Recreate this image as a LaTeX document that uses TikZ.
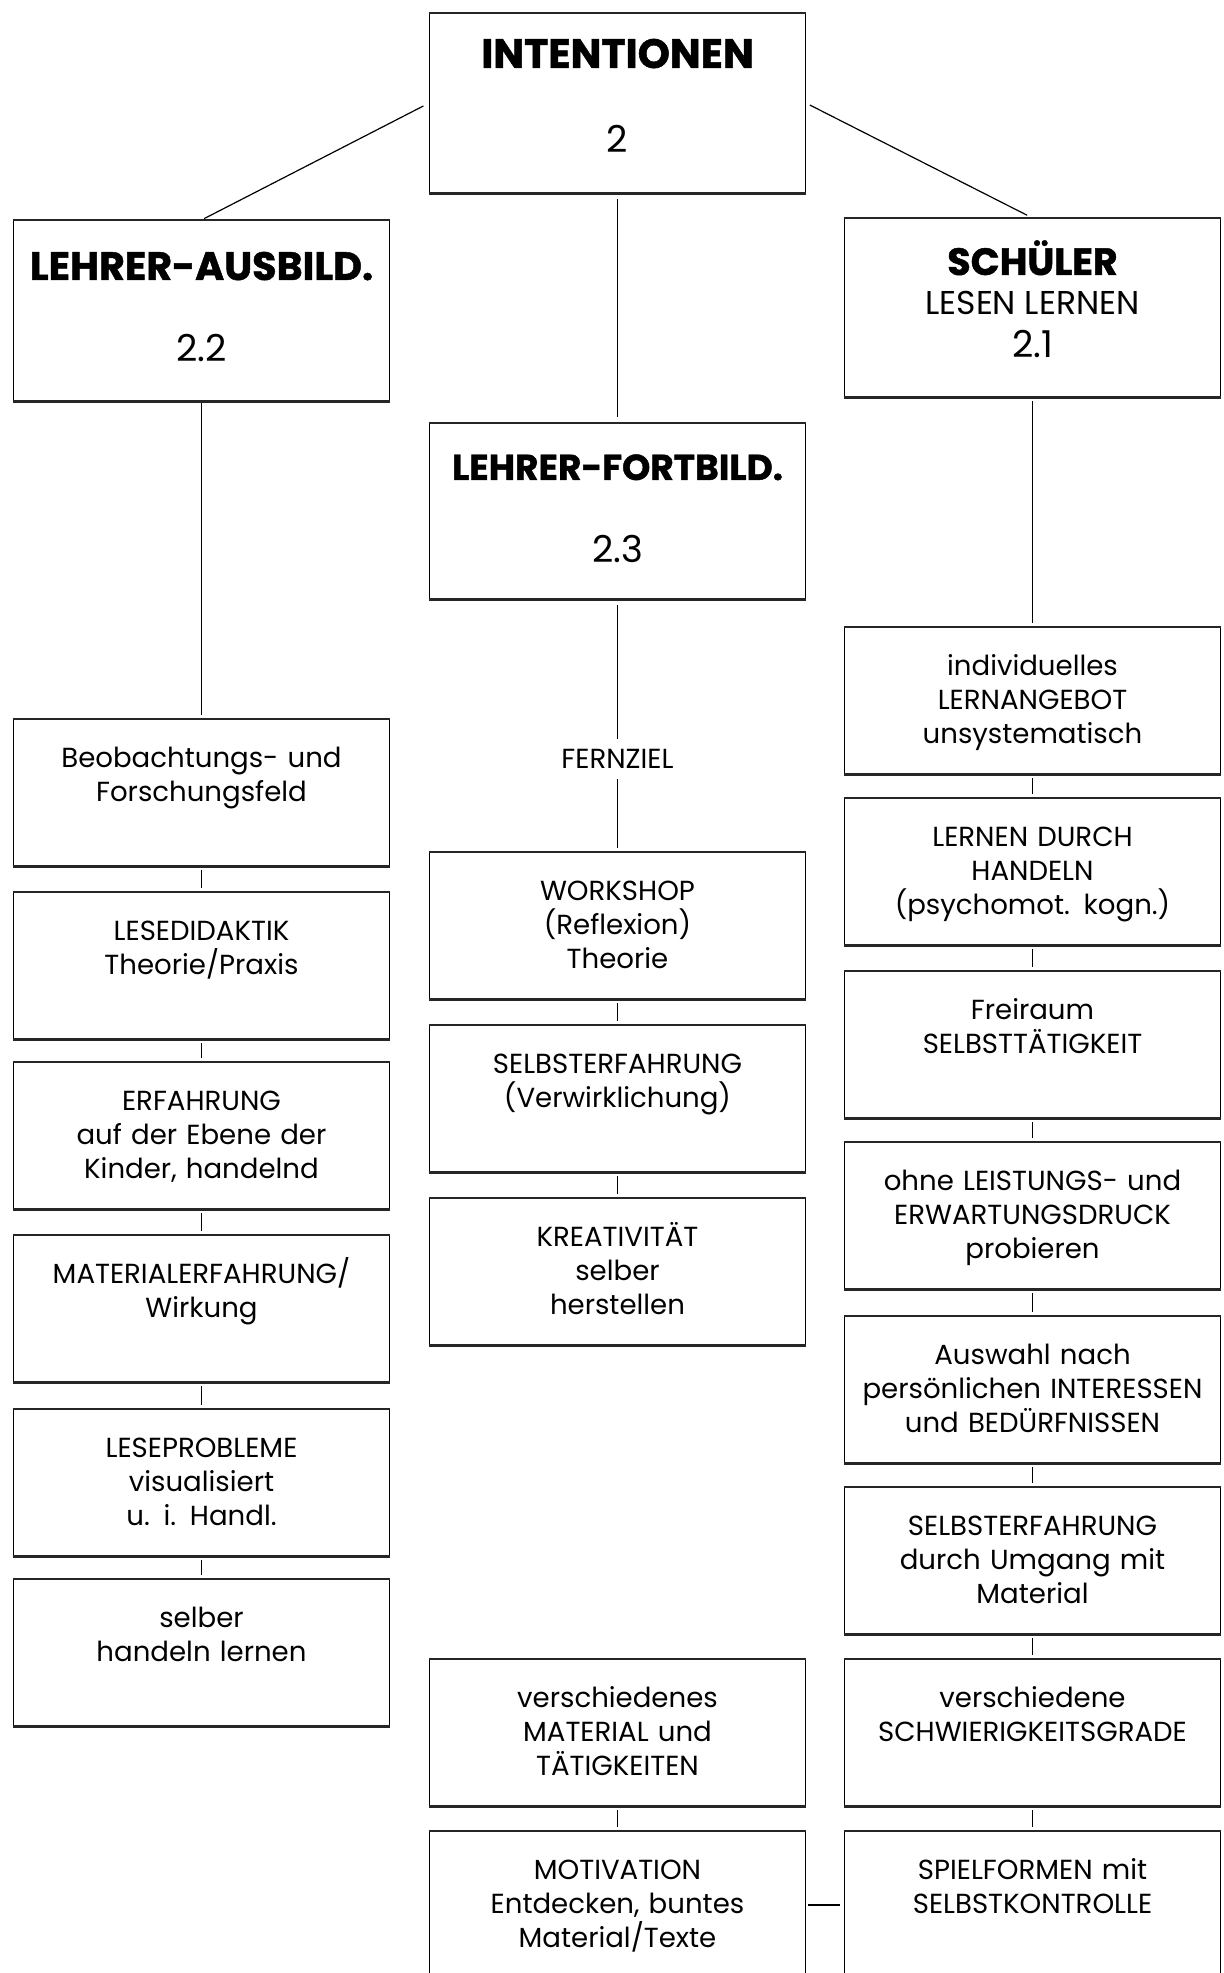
\documentclass[tikz,border=0pt]{standalone}
\usepackage{fontspec}
\setmainfont{Poppins}[BoldFeatures={FakeBold=1.2}]
\newfontfamily\bodyfont{Poppins}
\begin{document}
\begin{tikzpicture}[x=0.5pt,y=-0.5pt,
  frame/.style={draw=black, line width=0.7pt,
    append after command={(\tikzlastnode.north west) edge[line width=1.3pt, draw=black!85] (\tikzlastnode.north east)
                          (\tikzlastnode.south west) edge[line width=1.3pt, draw=black!85] (\tikzlastnode.south east)}},
  box/.style={frame, anchor=north, inner sep=0pt, text width=188pt, align=center,
    text height=24pt, text depth=49pt, font=\bodyfont\fontsize{13.8}{17}\selectfont},
  hbox/.style={frame, anchor=north, inner sep=0pt, minimum width=188pt},
  title/.style={anchor=base, inner sep=0pt, font=\fontsize{#1}{22}\selectfont\bfseries},
  num/.style={anchor=base, inner sep=0pt, font=\fontsize{18.5}{20}\selectfont},
  sub/.style={anchor=base, inner sep=0pt, font=\fontsize{16.5}{20}\selectfont},
  plain/.style={inner sep=0pt, font=\bodyfont\fontsize{13.8}{17}\selectfont},
  link/.style={draw=black, line width=0.6pt, shorten <=2pt, shorten >=2pt},
]
\useasboundingbox (0,0) rectangle (1224,1973);
\clip (0,0) rectangle (1224,1973);
\fill[white] (0,0) rectangle (1224,1973);

% ---------- header boxes ----------
\node[hbox, minimum height=89.5pt] (int) at (617.5,13) {};
\node[title=20.5] (intT) at (617.5,68) {INTENTIONEN};
\node[num] (intN) at (617.5,153) {2};

\node[hbox, minimum height=90pt] (la) at (201.5,220) {};
\node[title=19.8] (laT) at (201.5,280) {LEHRER-AUSBILD.};
\node[num] (laN) at (201.5,362) {2.2};

\node[hbox, minimum height=89pt] (sch) at (1032.5,218) {};
\node[title=19] (schT) at (1032.5,275) {SCHÜLER};
\node[sub] (schL) at (1032.5,315) {LESEN LERNEN};
\node[num] (schN) at (1032.5,358) {2.1};

\node[hbox, minimum height=87.5pt] (lf) at (617.5,423) {};
\node[title=18] (lfT) at (617.5,480) {LEHRER-FORTBILD.};
\node[num] (lfN) at (617.5,562) {2.3};

\node[plain] (fern) at (617.5,759) {FERNZIEL};

% ---------- left column ----------
\node[box] (bf) at (201.5,719) {Beobachtungs- und\\ Forschungsfeld};
\node[box] (ld) at (201.5,892) {LESEDIDAKTIK\\ Theorie/Praxis};
\node[box] (er) at (201.5,1062) {ERFAHRUNG\\ auf der Ebene der\\ Kinder, handelnd};
\node[box] (ma) at (201.5,1235) {MATERIALERFAHRUNG/\\ Wirkung};
\node[box] (lp) at (201.5,1409) {LESEPROBLEME\\ visualisiert\\ u. i. Handl.};
\node[box] (sh) at (201.5,1579) {selber\\ handeln lernen};

% ---------- centre column ----------
\node[box] (ws) at (617.5,852) {WORKSHOP\\ (Reflexion)\\ Theorie};
\node[box] (se1) at (617.5,1025) {SELBSTERFAHRUNG\\ (Verwirklichung)};
\node[box] (kr) at (617.5,1198) {KREATIVITÄT\\ selber\\ herstellen};
\node[box] (vm) at (617.5,1659) {verschiedenes\\ MATERIAL und\\ TÄTIGKEITEN};
\node[box] (mo) at (617.5,1831) {MOTIVATION\\ Entdecken, buntes\\ Material/Texte};

% ---------- right column ----------
\node[box] (il) at (1032.5,627) {individuelles\\ LERNANGEBOT\\ unsystematisch};
\node[box] (ldh) at (1032.5,798) {LERNEN DURCH\\ HANDELN\\ (psychomot. kogn.)};
\node[box] (fr) at (1032.5,971) {Freiraum\\ SELBSTTÄTIGKEIT};
\node[box] (ol) at (1032.5,1142) {ohne LEISTUNGS- und\\ ERWARTUNGSDRUCK\\ probieren};
\node[box] (aw) at (1032.5,1316) {Auswahl nach\\ persönlichen INTERESSEN\\ und BEDÜRFNISSEN};
\node[box] (se2) at (1032.5,1487) {SELBSTERFAHRUNG\\ durch Umgang mit\\ Material};
\node[box] (vs) at (1032.5,1659) {verschiedene\\ SCHWIERIGKEITSGRADE};
\node[box] (sp) at (1032.5,1831) {SPIELFORMEN mit\\ SELBSTKONTROLLE};

% ---------- connectors ----------
\draw[link, shorten <=3pt, shorten >=1.5pt] (int.west) -- (la.north);
\draw[link, shorten <=2pt, shorten >=3pt] (int.east) -- (sch.north);
\draw[link, shorten <=3pt, shorten >=3pt] (int.south) -- (lf.north);

\draw[link, shorten <=1pt] (la.south) -- (bf.north);
\draw[link] (bf.south) -- (ld.north);
\draw[link] (ld.south) -- (er.north);
\draw[link] (er.south) -- (ma.north);
\draw[link] (ma.south) -- (lp.north);
\draw[link] (lp.south) -- (sh.north);

\draw[link, shorten <=3pt, shorten >=5pt] (lf.south) -- (fern.north);
\draw[link, shorten <=5pt] (fern.south) -- (ws.north);
\draw[link] (ws.south) -- (se1.north);
\draw[link] (se1.south) -- (kr.north);
\draw[link] (vm.south) -- (mo.north);

\draw[link] (sch.south) -- (il.north);
\draw[link] (il.south) -- (ldh.north);
\draw[link] (ldh.south) -- (fr.north);
\draw[link] (fr.south) -- (ol.north);
\draw[link] (ol.south) -- (aw.north);
\draw[link] (aw.south) -- (se2.north);
\draw[link] (se2.south) -- (vs.north);
\draw[link] (vs.south) -- (sp.north);

\draw[link, line width=1pt, shorten <=1pt, shorten >=2pt] (mo.east) -- (sp.west);
\end{tikzpicture}
\end{document}
